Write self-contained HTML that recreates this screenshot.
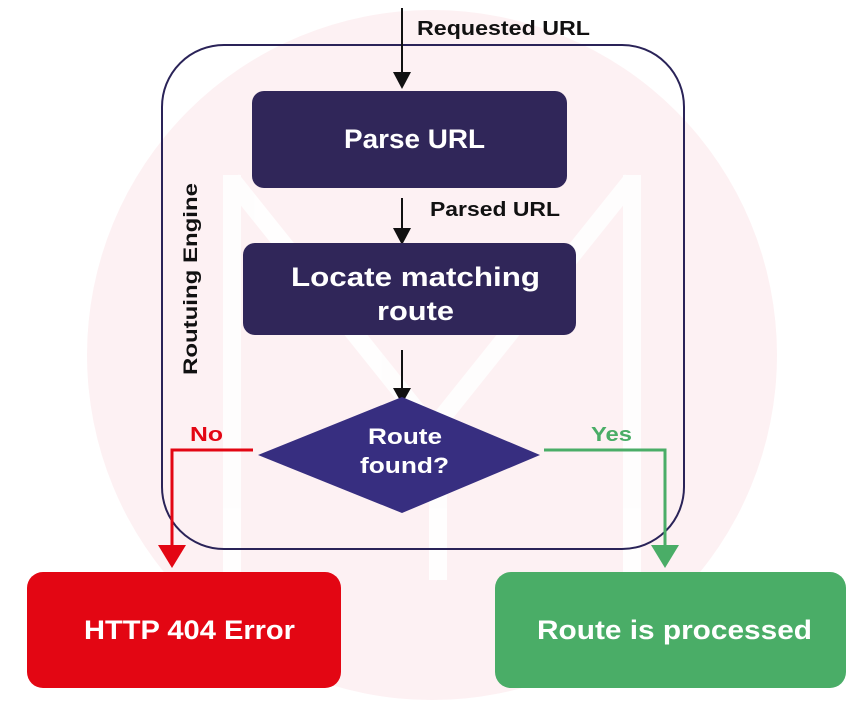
<!DOCTYPE html>
<html><head><style>
body{margin:0;background:#fff;width:864px;height:702px;overflow:hidden}
svg{display:block}
text{font-family:"Liberation Sans",sans-serif;font-weight:bold}
</style></head><body>
<svg width="864" height="702" viewBox="0 0 864 702">
<circle cx="432" cy="355" r="345" fill="#fdf1f3"/>
<g stroke="#fff" stroke-width="18" fill="none" opacity="0.9">
<line x1="232" y1="175" x2="232" y2="580"/>
<line x1="632" y1="175" x2="632" y2="580"/>
<line x1="232" y1="180" x2="432" y2="430"/>
<line x1="632" y1="180" x2="432" y2="430"/>
<line x1="438" y1="580" x2="438" y2="440"/>
</g>
<rect x="162" y="45" width="522" height="504" rx="62" fill="none" stroke="#2a2358" stroke-width="2"/>
<text transform="translate(197,375) rotate(-90)" font-size="19" fill="#111" textLength="192" lengthAdjust="spacingAndGlyphs">Routuing Engine</text>
<line x1="402" y1="8" x2="402" y2="75" stroke="#111" stroke-width="2"/>
<polygon points="393,72 411,72 402,89" fill="#111"/>
<text x="417" y="35" font-size="20" fill="#111" textLength="173" lengthAdjust="spacingAndGlyphs">Requested URL</text>
<rect x="252" y="91" width="315" height="97" rx="12" fill="#302659"/>
<text x="344" y="148" font-size="27" fill="#fff" textLength="141" lengthAdjust="spacingAndGlyphs">Parse URL</text>
<line x1="402" y1="198" x2="402" y2="230" stroke="#111" stroke-width="2"/>
<polygon points="393,228 411,228 402,245" fill="#111"/>
<text x="430" y="216" font-size="20" fill="#111" textLength="130" lengthAdjust="spacingAndGlyphs">Parsed URL</text>
<rect x="243" y="243" width="333" height="92" rx="12" fill="#302659"/>
<text x="291" y="286" font-size="27" fill="#fff" textLength="249" lengthAdjust="spacingAndGlyphs">Locate matching</text>
<text x="377" y="320" font-size="27" fill="#fff" textLength="77" lengthAdjust="spacingAndGlyphs">route</text>
<line x1="402" y1="350" x2="402" y2="392" stroke="#111" stroke-width="2"/>
<polygon points="393,388 411,388 402,404" fill="#111"/>
<polygon points="258,455 402,397 540,455 402,513" fill="#372e80"/>
<text x="368" y="444" font-size="22" fill="#fff" textLength="74" lengthAdjust="spacingAndGlyphs">Route</text>
<text x="360" y="473" font-size="22" fill="#fff" textLength="89" lengthAdjust="spacingAndGlyphs">found?</text>
<polyline points="253,450 172,450 172,548" fill="none" stroke="#e30613" stroke-width="3"/>
<polygon points="158,545 186,545 172,568" fill="#e30613"/>
<text x="190" y="441" font-size="20" fill="#e30613" textLength="33" lengthAdjust="spacingAndGlyphs">No</text>
<polyline points="544,450 665,450 665,548" fill="none" stroke="#4aad67" stroke-width="3"/>
<polygon points="651,545 679,545 665,568" fill="#4aad67"/>
<text x="591" y="441" font-size="20" fill="#4aad67" textLength="41" lengthAdjust="spacingAndGlyphs">Yes</text>
<rect x="27" y="572" width="314" height="116" rx="16" fill="#e30613"/>
<text x="84" y="639" font-size="27" fill="#fff" textLength="211" lengthAdjust="spacingAndGlyphs">HTTP 404 Error</text>
<rect x="495" y="572" width="351" height="116" rx="16" fill="#4aad67"/>
<text x="537" y="639" font-size="27" fill="#fff" textLength="275" lengthAdjust="spacingAndGlyphs">Route is processed</text>
</svg>
</body></html>
